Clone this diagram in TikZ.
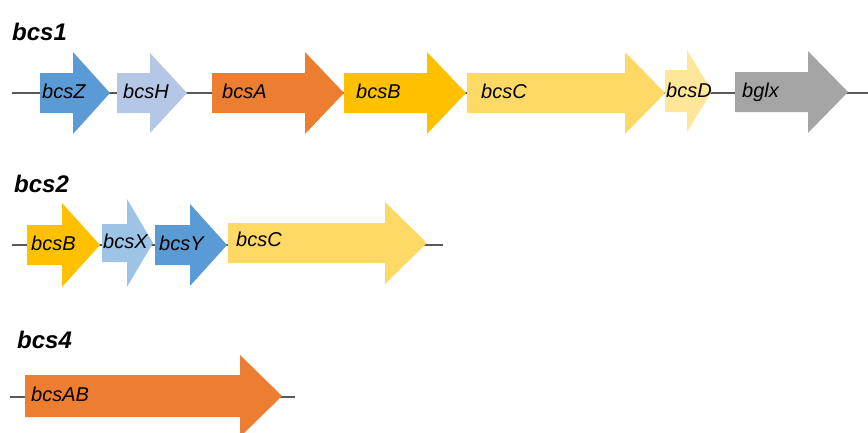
\documentclass[tikz,border=0pt]{standalone}
\usepackage{fontspec}
\setmainfont{Liberation Sans}
\definecolor{cZ}{HTML}{5B9BD5}
\definecolor{cH}{HTML}{B4C7E7}
\definecolor{cA}{HTML}{ED7D31}
\definecolor{cB}{HTML}{FFC000}
\definecolor{cC}{HTML}{FFD966}
\definecolor{cD}{HTML}{FFE699}
\definecolor{cG}{HTML}{A5A5A5}
\definecolor{cX}{HTML}{9DC3E6}
\definecolor{cY}{HTML}{5B9BD5}
\definecolor{bb}{HTML}{595959}
% #1 x start, #2 head start, #3 tip, #4 yc, #5 body half, #6 head half, #7 colour
\newcommand\genearrow[7]{%
  \fill[#7] ({#1},{#4-#5}) -- ({#2},{#4-#5}) -- ({#2},{#4-#6}) -- ({#3},{#4})
    -- ({#2},{#4+#6}) -- ({#2},{#4+#5}) -- ({#1},{#4+#5}) -- cycle;}
\begin{document}
\begin{tikzpicture}[x=1pt,y=-1pt,
  genelabel/.style={anchor=west,inner sep=0pt,text height=14.4pt,text depth=0pt,
    font=\fontsize{20}{24}\selectfont\itshape},
  title/.style={anchor=base west,inner sep=0pt,font=\fontsize{24}{28}\selectfont\bfseries\itshape},
  backbone/.style={draw=bb,line width=1.4pt}]
\useasboundingbox (0,0) rectangle (868,432);
% titles
\node[title] (t1) at (12,40) {bcs1};
\node[title] (t2) at (14,192) {bcs2};
\node[title] (t4) at (17,348) {bcs4};
% backbones
\coordinate (r1s) at (12,93); \coordinate (r1e) at (868,93);
\coordinate (r2s) at (12,245); \coordinate (r2e) at (443,245);
\coordinate (r4s) at (10,397); \coordinate (r4e) at (295,397);
\draw[backbone] (r1s) -- (r1e);
\draw[backbone] (r2s) -- (r2e);
\draw[backbone] (r4s) -- (r4e);
% row 1
\genearrow{40}{73}{110}{93}{20}{41}{cZ}
\genearrow{117}{150}{187}{93}{20}{40}{cH}
\genearrow{212}{305}{344}{93}{20}{41}{cA}
\genearrow{344}{427}{466}{93}{20}{41}{cB}
\genearrow{467}{625}{665}{93}{20}{41}{cC}
\genearrow{665}{687}{712}{91}{21}{41}{cD}
\genearrow{735}{808}{848}{92}{20}{41}{cG}
\node[genelabel] (z) at (42,91) {bcsZ};
\node[genelabel] (h) at (123,91) {bcsH};
\node[genelabel] (a) at (222,91) {bcsA};
\node[genelabel] (b) at (356,91) {bcsB};
\node[genelabel] (c) at (481,91) {bcsC};
\node[genelabel] (d) at (666,90) {bcsD};
\node[genelabel] (g) at (742,90) {bglx};
% row 2
\genearrow{27}{62}{100}{245}{20}{42}{cB}
\genearrow{102}{127}{153}{243}{19}{44}{cX}
\genearrow{155}{190}{227}{245}{20}{41}{cY}
\genearrow{228}{385}{427}{243}{20}{41}{cC}
\node[genelabel] (b2) at (31,243) {bcsB};
\node[genelabel] (x2) at (103,241) {bcsX};
\node[genelabel] (y2) at (159,243) {bcsY};
\node[genelabel] (c2) at (236,239) {bcsC};
% row 3
\genearrow{25}{240}{282}{396}{21}{41}{cA}
\node[genelabel] (ab) at (31,394) {bcsAB};
\end{tikzpicture}
\end{document}
